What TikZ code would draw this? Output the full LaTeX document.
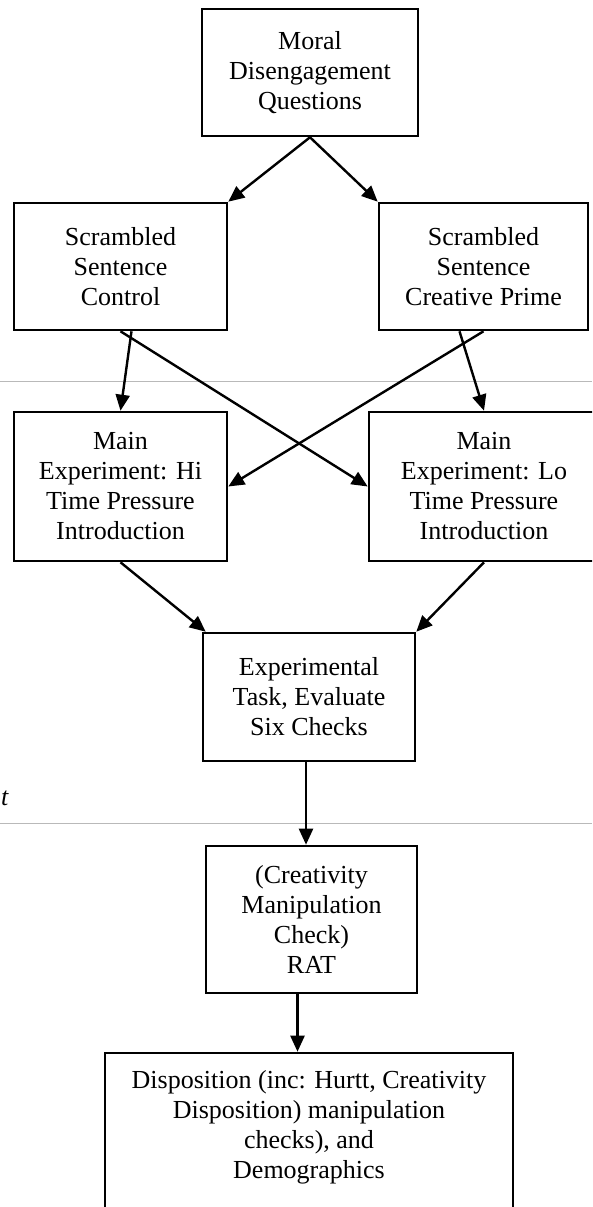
\documentclass[tikz,border=0pt]{standalone}
\usepackage{fontspec}
\setmainfont{Liberation Serif}
\usetikzlibrary{arrows.meta}
\begin{document}
\begin{tikzpicture}[x=1pt,y=-1pt,
  box/.style={draw, line width=2.6pt, align=center, inner sep=0pt, font=\fontsize{26}{30}\selectfont},
  txt/.style={align=center, inner sep=0pt, font=\fontsize{26}{30}\selectfont},
  arr/.style={line width=2.4pt, -{Triangle[length=16pt,width=14pt]}},
  sep/.style={draw=gray!55, line width=1pt}]
\clip (0,0) rectangle (592,1207);
\fill[white] (0,0) rectangle (592,1207);
% separator lines
\coordinate (g1l) at (0,381);
\coordinate (g1r) at (592,381);
\coordinate (g2l) at (0,823);
\coordinate (g2r) at (592,823);
\draw[sep] (g1l) -- (g1r);
\draw[sep] (g2l) -- (g2r);
\node[txt, anchor=base west, font=\fontsize{26}{30}\selectfont\itshape] (tlab) at (1,805) {t};
% boxes
\node[box, minimum width=216pt, minimum height=127pt] (moral) at (310,72.5) {Moral\\Disengagement\\Questions};
\node[box, minimum width=213pt, minimum height=127pt] (ctrl) at (120.5,266.5) {Scrambled\\Sentence\\Control};
\node[box, minimum width=209pt, minimum height=127pt] (crea) at (483.5,266.5) {Scrambled\\Sentence\\Creative Prime};
\node[box, minimum width=213pt, minimum height=149pt] (hi) at (120.5,486.5) {Main\\Experiment: Hi\\Time Pressure\\Introduction};
\node[box, minimum width=230pt, minimum height=149pt] (lo) at (484,486.5) {Main\\Experiment: Lo\\Time Pressure\\Introduction};
\node[box, minimum width=212pt, minimum height=128pt] (exp) at (309,697) {Experimental\\Task, Evaluate\\Six Checks};
\node[box, minimum width=211pt, minimum height=147pt] (rat) at (311.5,919.5) {(Creativity\\Manipulation\\Check)\\RAT};
\node[box, minimum width=408pt, minimum height=172pt] (disp) at (309,1139) {};
\node[txt] (disptext) at (309,1127) {Disposition (inc: Hurtt, Creativity\\Disposition) manipulation\\checks), and\\Demographics};
% connectors
\draw[arr] (moral.south) -- (ctrl.north east);
\draw[arr] (moral.south) -- (crea.north west);
\draw[arr] ([xshift=11pt]ctrl.south) -- (hi.north);
\draw[arr] (ctrl.south) -- (lo.west);
\draw[arr] ([xshift=-24pt]crea.south) -- (lo.north);
\draw[arr] (crea.south) -- (hi.east);
\draw[arr] (hi.south) -- ([xshift=4pt]exp.north west);
\draw[arr] (lo.south) -- (exp.north east);
\draw[arr] ([xshift=-3pt]exp.south) -- ([xshift=-3pt]exp.south |- rat.north);
\draw[arr] ([xshift=-14pt]rat.south) -- ([xshift=-14pt]rat.south |- disp.north);
\end{tikzpicture}
\end{document}
